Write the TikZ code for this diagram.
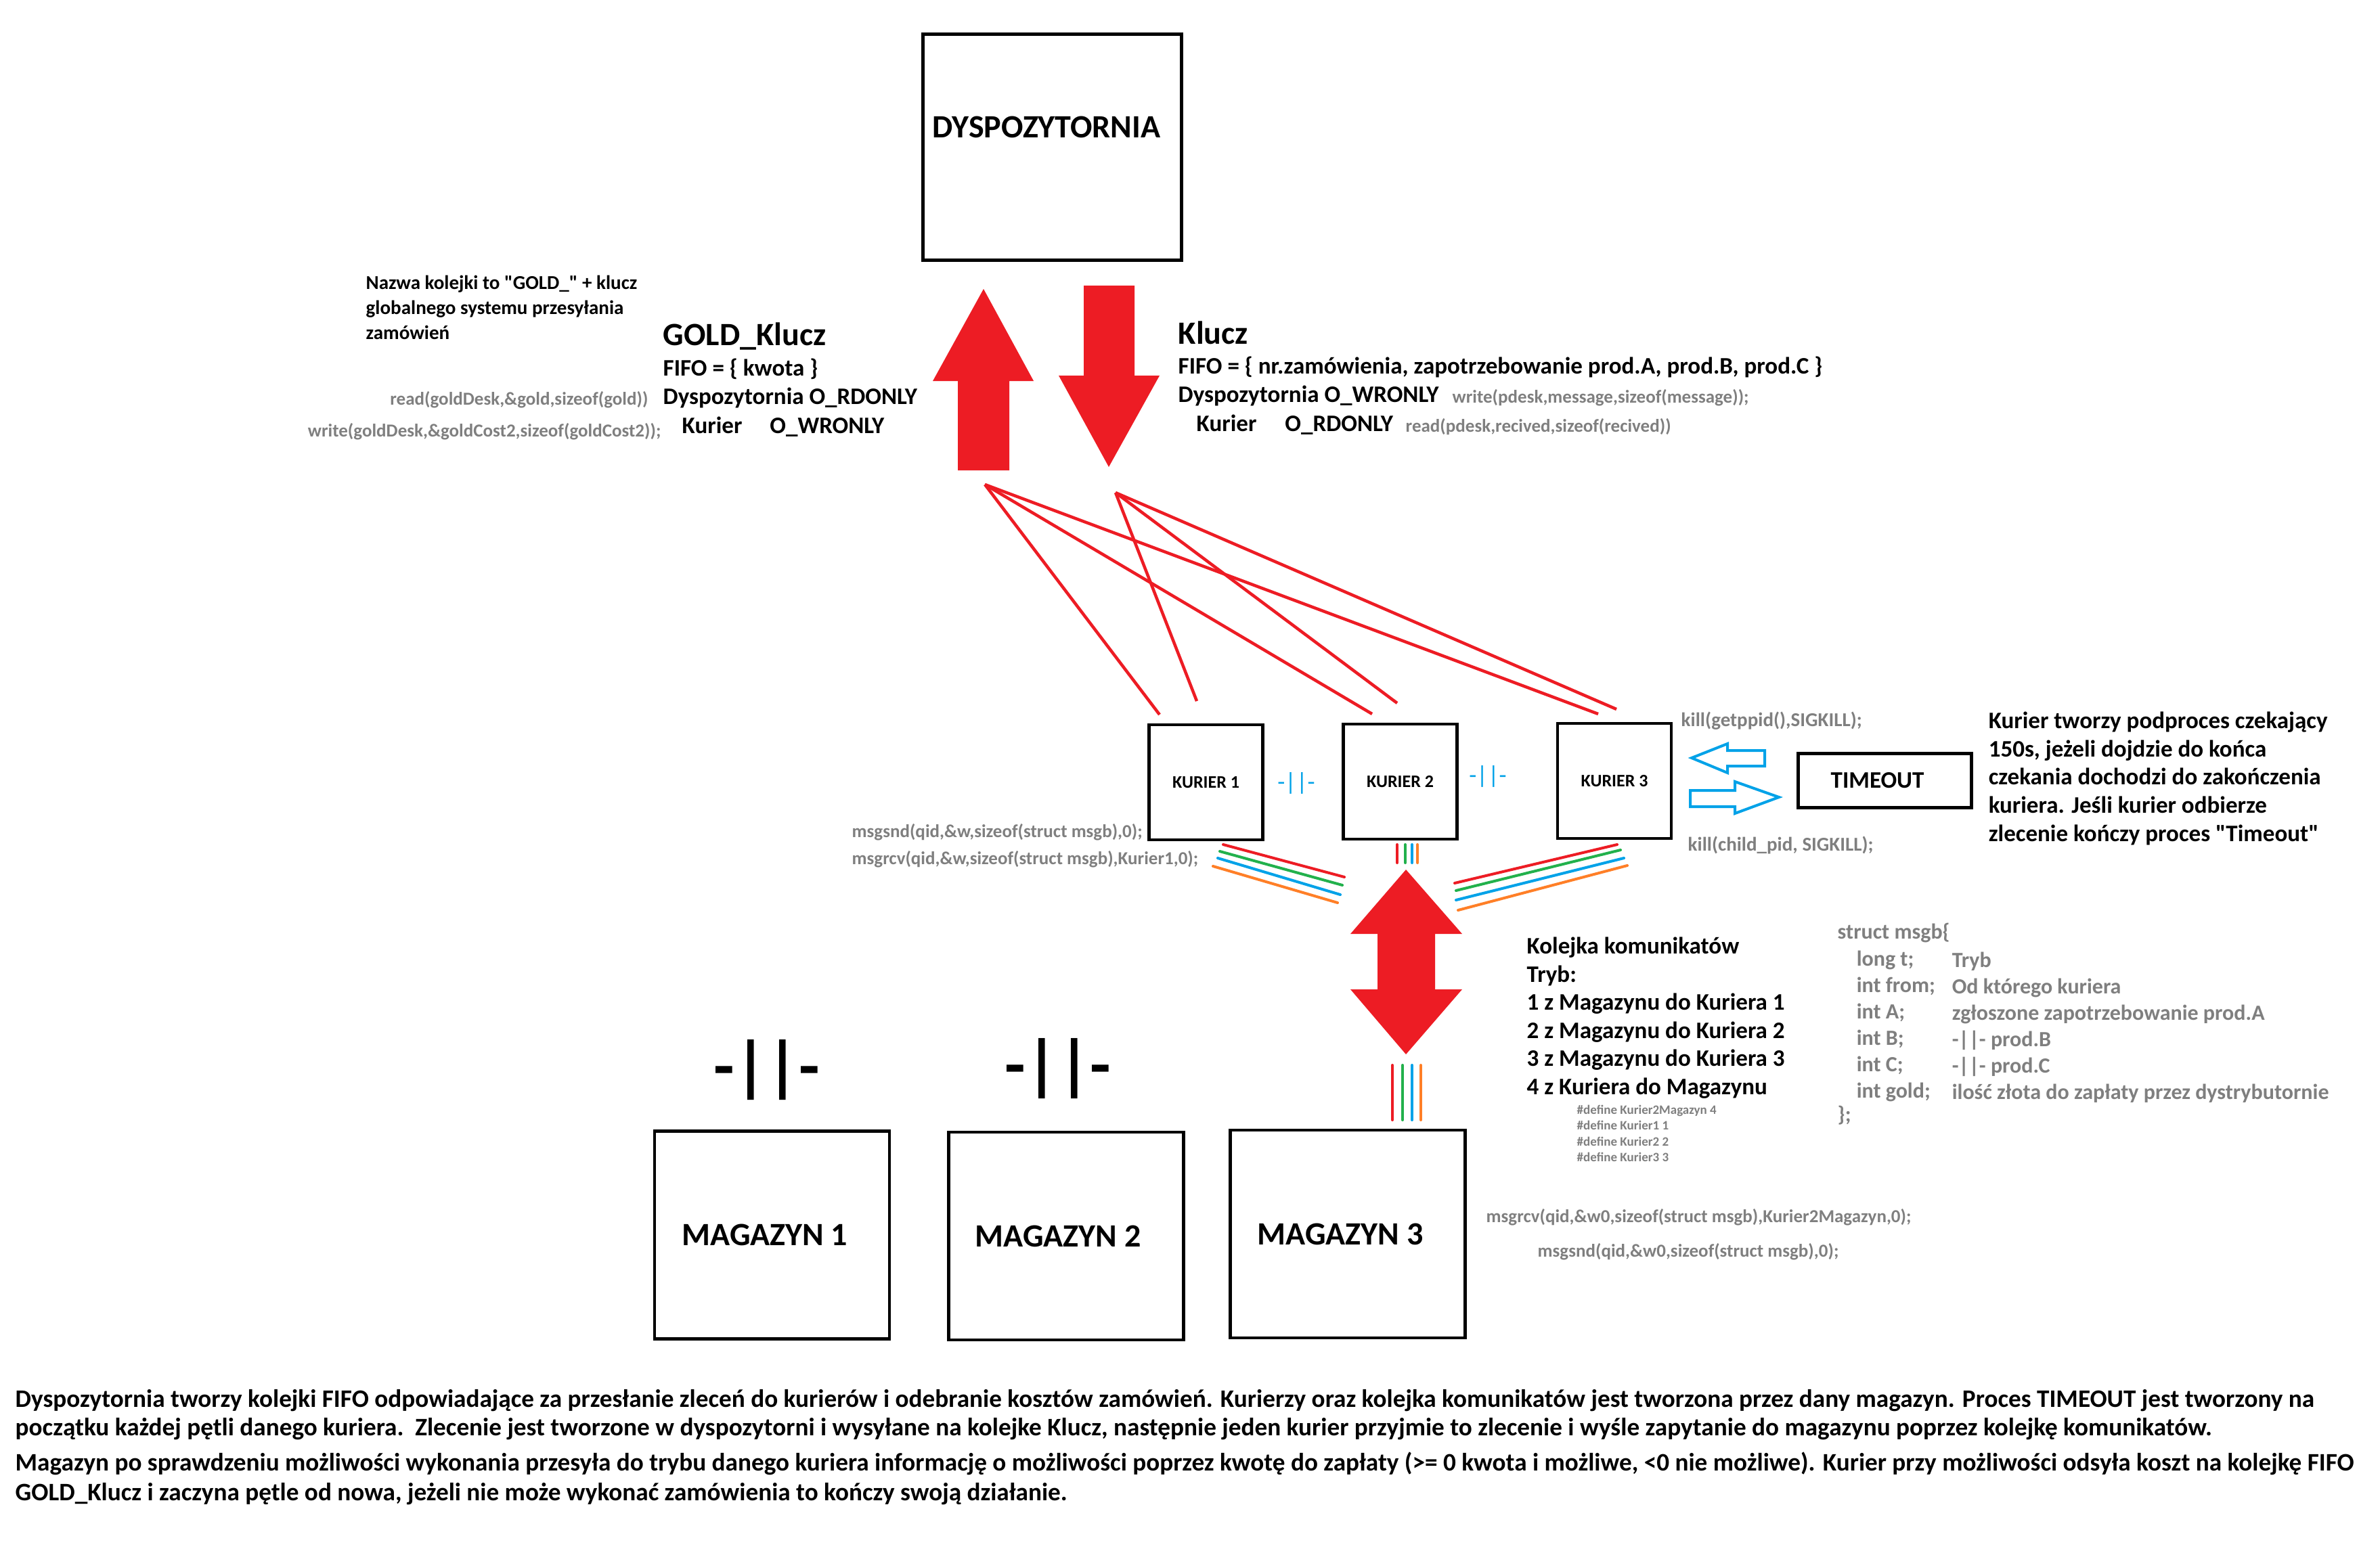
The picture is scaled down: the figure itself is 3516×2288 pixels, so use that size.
\documentclass[tikz,border=0pt]{standalone}
\usepackage{fontspec}
\setmainfont{Carlito}
\newdimen\px \px=0.28453pt
\newcommand\fsz[2]{\fontsize{#1\px}{#2\px}\selectfont}
\definecolor{pntred}{RGB}{237,28,36}
\definecolor{pntblue}{RGB}{0,162,232}
\definecolor{pntgreen}{RGB}{34,177,76}
\definecolor{pntorange}{RGB}{255,127,39}
\definecolor{codegray}{RGB}{127,127,127}
\tikzset{
  box/.style={draw, line width=4.5\px, inner sep=0pt},
  title/.style={font=\bfseries\fsz{48}{56}, inner sep=0pt},
  txt/.style={font=\bfseries\fsz{35}{42}, inner sep=0pt, align=left},
  codetxt/.style={font=\bfseries\fsz{27}{39}, text=codegray, inner sep=0pt, align=left},
  redline/.style={pntred, line width=4.5\px},
  wire/.style={line width=4\px, line cap=round},
  hollow/.style={draw=pntblue, line width=4\px, fill=white},
}
\begin{document}
\begin{tikzpicture}[x=0.01cm, y=-0.01cm]
  \fill[white] (0,0) rectangle (3516,2288);
  \useasboundingbox (0,0) rectangle (3516,2288);

  \node[box, minimum width=382\px, minimum height=334\px] (dysp) at (1554.5,217.5) {};
  \node[title, anchor=base] (dysptitle) at (1546,203) {DYSPOZYTORNIA};

  \fill[pntred] (1415,695) -- (1415,563) -- (1378,563) -- (1453,427) -- (1527,563) -- (1491,563) -- (1491,695) -- cycle;
  \fill[pntred] (1601,422) -- (1601,555) -- (1564,555) -- (1638,690) -- (1713,555) -- (1676,555) -- (1676,422) -- cycle;

  \node[font=\bfseries\fsz{29}{36.5}, inner sep=0pt, align=left, anchor=base west] (goldnote) at (540,501)
    {Nazwa kolejki to \textquotedbl GOLD\_\textquotedbl\ + klucz\\globalnego systemu przesyłania\\zamówień};
  \node[title, anchor=base west] (goldname) at (979,510) {GOLD\_Klucz};
  \node[txt, anchor=base west] (goldfifo) at (979,640)
    {FIFO = \{ kwota \}\\Dyspozytornia O\_RDONLY\\\hspace*{28\px}Kurier\hspace{41\px}O\_WRONLY};
  \node[codetxt, anchor=base east] (goldread) at (958,598) {read(goldDesk,\&gold,sizeof(gold))};
  \node[codetxt, anchor=base east] (goldwrite) at (977,645) {write(goldDesk,\&goldCost2,sizeof(goldCost2));};

  \node[title, anchor=base west] (kluczname) at (1740,508) {Klucz};
  \node[txt, anchor=base west] (kluczfifo) at (1740,637)
    {FIFO = \{ nr.zamówienia, zapotrzebowanie prod.A, prod.B, prod.C \}\\Dyspozytornia O\_WRONLY\\\hspace*{27\px}Kurier\hspace{42\px}O\_RDONLY};
  \node[codetxt, anchor=base west] (kluczwrite) at (2145,595) {write(pdesk,message,sizeof(message));};
  \node[codetxt, anchor=base west] (kluczread) at (2076,638) {read(pdesk,recived,sizeof(recived))};

  \node[box, minimum width=168\px, minimum height=170\px, font=\bfseries\fsz{26}{30}] (k1) at (1781.5,1156) {KURIER 1};
  \node[box, minimum width=168\px, minimum height=170\px, font=\bfseries\fsz{26}{30}] (k2) at (2068.5,1155) {KURIER 2};
  \node[box, minimum width=168\px, minimum height=170\px, font=\bfseries\fsz{26}{30}] (k3) at (2385,1154) {KURIER 3};
  \node[font=\fsz{36}{40}, text=pntblue, inner sep=0pt] (sep12) at (1915,1157) {-||-};
  \node[font=\fsz{36}{40}, text=pntblue, inner sep=0pt] (sep23) at (2198,1147) {-||-};

  \coordinate (goldfoot) at (1455,716);
  \coordinate (kluczfoot) at (1648,728);
  \coordinate (gold1) at (1713,1056);
  \coordinate (gold2) at (2027,1055);
  \coordinate (gold3) at (2361,1055);
  \coordinate (klucz1) at (1768,1036);
  \coordinate (klucz2) at (2064,1039);
  \coordinate (klucz3) at (2388,1048);
  \foreach \k in {1,2,3} {
    \draw[redline] (goldfoot) -- (gold\k);
    \draw[redline] (kluczfoot) -- (klucz\k);
  }

  \node[box, minimum width=256\px, minimum height=80\px, font=\bfseries\fsz{35}{40}] (timeout) at (2784.5,1153.5) {TIMEOUT\hspace*{22\px}};
  \draw[hollow] (2607,1109) -- (2552,1109) -- (2552,1099) -- (2499,1120) -- (2552,1142) -- (2552,1132) -- (2607,1132) -- cycle;
  \draw[hollow] (2497,1168) -- (2563,1168) -- (2563,1155) -- (2628,1178) -- (2563,1202) -- (2563,1192) -- (2497,1192) -- cycle;
  \node[codetxt, font=\bfseries\fsz{29}{39}, anchor=base west] (killparent) at (2483,1073) {kill(getppid(),SIGKILL);};
  \node[codetxt, font=\bfseries\fsz{29}{39}, anchor=base west] (killchild) at (2493,1257) {kill(child\_pid, SIGKILL);};
  \node[font=\bfseries\fsz{35}{41.5}, inner sep=0pt, align=left, anchor=base west] (timeoutnote) at (2937,1243)
    {Kurier tworzy podproces czekający\\150s, jeżeli dojdzie do końca\\czekania dochodzi do zakończenia\\kuriera. Jeśli kurier odbierze\\zlecenie kończy proces \textquotedbl Timeout\textquotedbl};

  \node[codetxt, anchor=base west] (k1snd) at (1258,1237) {msgsnd(qid,\&w,sizeof(struct msgb),0);};
  \node[codetxt, anchor=base west] (k1rcv) at (1258,1277) {msgrcv(qid,\&w,sizeof(struct msgb),Kurier1,0);};

  \foreach \c/\ax/\ay/\bx/\by in {pntred/1807/1248/1986/1296, pntgreen/1802/1258/1983/1308,
      pntblue/1799/1268/1980/1322, pntorange/1792/1280/1976/1334,
      pntred/2149/1305/2389/1248, pntgreen/2151/1316/2394/1256,
      pntblue/2151/1330/2399/1268, pntorange/2154/1345/2404/1279,
      pntred/2064/1248/2064/1275, pntgreen/2076/1248/2076/1275,
      pntblue/2086/1248/2086/1275, pntorange/2094/1248/2094/1275,
      pntred/2057/1574/2057/1655, pntgreen/2072/1574/2072/1655,
      pntblue/2086/1574/2086/1655, pntorange/2099/1574/2099/1655}
    \draw[wire, \c] (\ax,\ay) -- (\bx,\by);

  \fill[pntred] (2077,1285) -- (2160,1380) -- (2120,1380) -- (2120,1462) -- (2160,1462) -- (2077,1558)
    -- (1995,1462) -- (2035,1462) -- (2035,1380) -- (1995,1380) -- cycle;

  \node[txt, font=\bfseries\fsz{35}{41.5}, anchor=base west] (queuenote) at (2255,1617.5)
    {Kolejka komunikatów\\Tryb:\\1 z Magazynu do Kuriera 1\\2 z Magazynu do Kuriera 2\\3 z Magazynu do Kuriera 3\\4 z Kuriera do Magazynu};
  \node[codetxt, font=\bfseries\fsz{19}{23}, anchor=base west] (defines) at (2329,1716)
    {\#define Kurier2Magazyn 4\\\#define Kurier1 1\\\#define Kurier2 2\\\#define Kurier3 3};

  \node[codetxt, font=\bfseries\fsz{32}{39}, anchor=base west] (msgbopen) at (2714,1387) {struct msgb\{};
  \node[codetxt, font=\bfseries\fsz{32}{38.8}, anchor=base west] (msgbfields) at (2742,1622)
    {long t;\\int from;\\int A;\\int B;\\int C;\\int gold;};
  \node[codetxt, font=\bfseries\fsz{32}{38.8}, anchor=base west] (msgbnotes) at (2883,1624)
    {Tryb\\Od którego kuriera\\zgłoszone zapotrzebowanie prod.A\\-||- prod.B\\-||- prod.C\\ilość złota do zapłaty przez dystrybutornie};
  \node[codetxt, font=\bfseries\fsz{32}{39}, anchor=base west] (msgbclose) at (2714,1657) {\};};

  \node[font=\bfseries\fsz{100}{110}, inner sep=0pt] (same1) at (1133,1581) {-||-};
  \node[font=\bfseries\fsz{100}{110}, inner sep=0pt] (same2) at (1563,1579) {-||-};
  \node[box, minimum width=347\px, minimum height=307\px, title] (mag1) at (1140.5,1825) {MAGAZYN 1\hspace*{21\px}};
  \node[box, minimum width=347\px, minimum height=307\px, title] (mag2) at (1575,1826.5) {MAGAZYN 2\hspace*{24\px}};
  \node[box, minimum width=347\px, minimum height=307\px, title] (mag3) at (1991,1823.5) {MAGAZYN 3\hspace*{22\px}};
  \node[codetxt, anchor=base west] (m3rcv) at (2195,1806) {msgrcv(qid,\&w0,sizeof(struct msgb),Kurier2Magazyn,0);};
  \node[codetxt, anchor=base west] (m3snd) at (2271,1857) {msgsnd(qid,\&w0,sizeof(struct msgb),0);};

  \node[font=\bfseries\fsz{37.2}{42}, inner sep=0pt, align=left, anchor=base west] (summary) at (22,2217)
    {Dyspozytornia tworzy kolejki FIFO odpowiadające za przesłanie zleceń do kurierów i odebranie kosztów zamówień. Kurierzy oraz kolejka komunikatów jest tworzona przez dany magazyn. Proces TIMEOUT jest tworzony na\\
     początku każdej pętli danego kuriera.\ \ Zlecenie jest tworzone w dyspozytorni i wysyłane na kolejke Klucz, następnie jeden kurier przyjmie to zlecenie i wyśle zapytanie do magazynu poprzez kolejkę komunikatów.\\[9\px]
     Magazyn po sprawdzeniu możliwości wykonania przesyła do trybu danego kuriera informację o możliwości poprzez kwotę do zapłaty (>= 0 kwota i możliwe, <0 nie możliwe). Kurier przy możliwości odsyła koszt na kolejkę FIFO\\[2\px]
     GOLD\_Klucz i zaczyna pętle od nowa, jeżeli nie może wykonać zamówienia to kończy swoją działanie.};
\end{tikzpicture}
\end{document}
